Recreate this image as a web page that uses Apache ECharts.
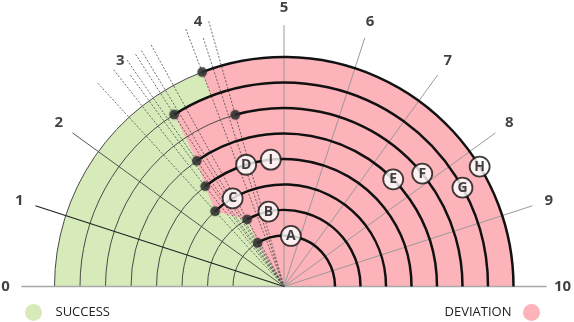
<!DOCTYPE html>
<html><head><meta charset="utf-8">
<script src="https://cdn.jsdelivr.net/npm/echarts@6/dist/echarts.min.js"></script>
<style>html,body{margin:0;padding:0;background:#fff}#c{width:574px;height:322px}</style>
</head><body><div id="c"></div>
<script>
// ---- data ----
const ringLevels   = [2, 3, 4, 5, 6, 7, 8, 9];
const dotAngles    = [3.27, 3.40, 2.64, 2.88, 3.07, 4.12, 3.19, 3.84];
const spokeValues  = [0, 1, 2, 3, 4, 5, 6, 7, 8, 9, 10];
const tickLabels   = ['0', '1', '2', '3', '4', '5', '6', '7', '8', '9', '10'];
const dashedSpokes = [3, 4];
const markerLetters = ['A', 'B', 'C', 'D', 'I', 'E', 'F', 'G', 'H'];
const markerRings   = [2, 3, 4, 5, 5, 6, 7, 8, 9];
const markerAngles  = [5.43, 4.35, 3.32, 4.04, 4.67, 7.53, 7.82, 8.39, 8.25];
const boundaryRings = [9, 8, 6, 5, 4, 3, 2];
const legendNames   = ['SUCCESS', 'DEVIATION'];

const GREEN = '#d6ebb9', PINK = '#fcb3b9';
const FONT = "'Open Sans', 'Liberation Sans', sans-serif";

function geo(api) {
  const c = api.coord([0, 0]);
  const pt = (r, a) => api.coord([r, a]);
  const rad = r => { const p = api.coord([r, 0]); return Math.hypot(p[0] - c[0], p[1] - c[1]); };
  const ang = a => { const p = api.coord([1, a]); let t = Math.atan2(p[1] - c[1], p[0] - c[0]); if (t > 0.5) t -= 2 * Math.PI; return t; };
  return { c, pt, rad, ang };
}
const angleOfRing = r => dotAngles[ringLevels.indexOf(r)];
const fmt = p => p[0].toFixed(2) + ' ' + p[1].toFixed(2);

const chart = echarts.init(document.getElementById('c'), null, { renderer: 'canvas' });
chart.setOption({
  animation: false,
  backgroundColor: '#ffffff',
  polar: { center: [284, 286.5], radius: 280.5 },
  angleAxis: { type: 'value', min: 0, max: 20, startAngle: 180, clockwise: true, show: false },
  radiusAxis: { type: 'value', min: 0, max: 11, show: false },
  legend: [
    { data: [{ name: legendNames[0], icon: 'circle' }], left: 20, top: 299, itemWidth: 34, itemHeight: 17,
      selectedMode: false, textStyle: { fontFamily: FONT, fontSize: 13, color: '#222' } },
    { data: [{ name: legendNames[1], icon: 'circle' }], right: 29, top: 299, align: 'right', itemWidth: 30, itemHeight: 17,
      selectedMode: false, textStyle: { fontFamily: FONT, fontSize: 13, color: '#222' } }
  ],
  series: [
    { // green half disc
      name: legendNames[0], type: 'custom', coordinateSystem: 'polar', silent: true, z: 1,
      itemStyle: { color: GREEN }, data: [[0, 0]],
      renderItem: (p, api) => {
        const g = geo(api);
        return { type: 'sector', shape: { cx: g.c[0], cy: g.c[1], r0: 0, r: g.rad(9), startAngle: g.ang(0), endAngle: g.ang(10), clockwise: true },
                 style: { fill: GREEN } };
      }
    },
    { // pink deviation region
      name: legendNames[1], type: 'custom', coordinateSystem: 'polar', silent: true, z: 2,
      itemStyle: { color: PINK }, data: [[0, 0]],
      renderItem: (p, api) => {
        const g = geo(api);
        const r9 = boundaryRings[0], r8 = boundaryRings[1];
        const a9 = angleOfRing(r9), a8 = angleOfRing(r8);
        const R8 = g.rad(r8), R9 = g.rad(r9);
        let d = 'M' + fmt(g.pt(r9, a9)) + ' L' + fmt(g.pt(r8, a9)) +
                ' A' + R8.toFixed(2) + ' ' + R8.toFixed(2) + ' 0 0 0 ' + fmt(g.pt(r8, a8));
        boundaryRings.slice(2).forEach(r => { d += ' L' + fmt(g.pt(r, angleOfRing(r))); });
        d += ' L' + fmt(g.c) + ' L' + fmt(g.pt(r9, 10)) +
             ' A' + R9.toFixed(2) + ' ' + R9.toFixed(2) + ' 0 0 0 ' + fmt(g.pt(r9, a9)) + ' Z';
        return { type: 'path', shape: { pathData: d }, style: { fill: PINK } };
      }
    },
    { // thin ring lines (left part)
      type: 'custom', coordinateSystem: 'polar', silent: true, z: 3,
      data: ringLevels.map((r, i) => [r, dotAngles[i]]),
      renderItem: (p, api) => {
        const g = geo(api);
        return { type: 'arc', shape: { cx: g.c[0], cy: g.c[1], r: g.rad(api.value(0)), startAngle: g.ang(0), endAngle: g.ang(api.value(1)), clockwise: true },
                 style: { stroke: '#4a4a4a', lineWidth: 1, fill: null } };
      }
    },
    { // solid spokes
      type: 'custom', coordinateSystem: 'polar', silent: true, z: 4,
      data: spokeValues.filter(v => dashedSpokes.indexOf(v) < 0).map(v => [0, v]),
      renderItem: (p, api) => {
        const g = geo(api);
        const v = api.value(1);
        const isBase = (v === 0 || v === 10);
        const e = g.pt(isBase ? 10.3 : 10.25, v);
        let stroke = '#9a9a9a', lw = 1;
        if (isBase) { stroke = '#a8a8a8'; lw = 1.6; }
        else if (v === 1) { stroke = '#222'; lw = 1.2; }
        else if (v === 2) { stroke = '#444'; lw = 0.9; }
        return { type: 'line', shape: { x1: g.c[0], y1: g.c[1], x2: e[0], y2: e[1] }, style: { stroke, lineWidth: lw } };
      }
    },
    { // dashed spokes through dots and spokes 3,4
      type: 'custom', coordinateSystem: 'polar', silent: true, z: 5,
      data: dotAngles.map(a => [0, a]).concat(dashedSpokes.map(v => [1, v])),
      renderItem: (p, api) => {
        const g = geo(api);
        const len = api.value(0) === 1 ? 10.25 : 10.85;
        const e = g.pt(len, api.value(1));
        return { type: 'line', shape: { x1: g.c[0], y1: g.c[1], x2: e[0], y2: e[1] },
                 style: { stroke: '#4a4a4a', lineWidth: 0.8, lineDash: [2, 1.6] } };
      }
    },
    { // black arcs
      type: 'custom', coordinateSystem: 'polar', silent: true, z: 6,
      data: ringLevels.map((r, i) => [r, dotAngles[i]]),
      renderItem: (p, api) => {
        const g = geo(api);
        return { type: 'arc', shape: { cx: g.c[0], cy: g.c[1], r: g.rad(api.value(0)), startAngle: g.ang(api.value(1)), endAngle: g.ang(10), clockwise: true },
                 style: { stroke: '#111', lineWidth: 2.5, fill: null } };
      }
    },
    { // dots
      type: 'scatter', coordinateSystem: 'polar', silent: true, z: 7,
      symbol: 'circle', symbolSize: 9.5,
      itemStyle: { color: '#333', shadowBlur: 2, shadowColor: 'rgba(0,0,0,0.5)' },
      data: ringLevels.map((r, i) => [r, dotAngles[i]])
    },
    { // lettered markers
      type: 'scatter', coordinateSystem: 'polar', silent: true, z: 8,
      symbol: 'circle', symbolSize: 20,
      itemStyle: { color: '#fff', borderColor: '#111', borderWidth: 1.8 },
      label: { show: true, position: 'inside', formatter: p => markerLetters[p.dataIndex],
               fontFamily: FONT, fontWeight: 'bold', fontSize: 14, color: '#111' },
      data: markerRings.map((r, i) => [r, markerAngles[i]])
    },
    { // tick labels
      type: 'scatter', coordinateSystem: 'polar', silent: true, z: 9,
      symbol: 'circle', symbolSize: 1, itemStyle: { color: 'rgba(0,0,0,0)' },
      label: { show: true, position: 'inside', formatter: p => tickLabels[p.dataIndex],
               fontFamily: FONT, fontWeight: 'bold', fontSize: 15, color: '#111' },
      data: spokeValues.map(v => [10.92, v])
    }
  ]
});
</script></body></html>
